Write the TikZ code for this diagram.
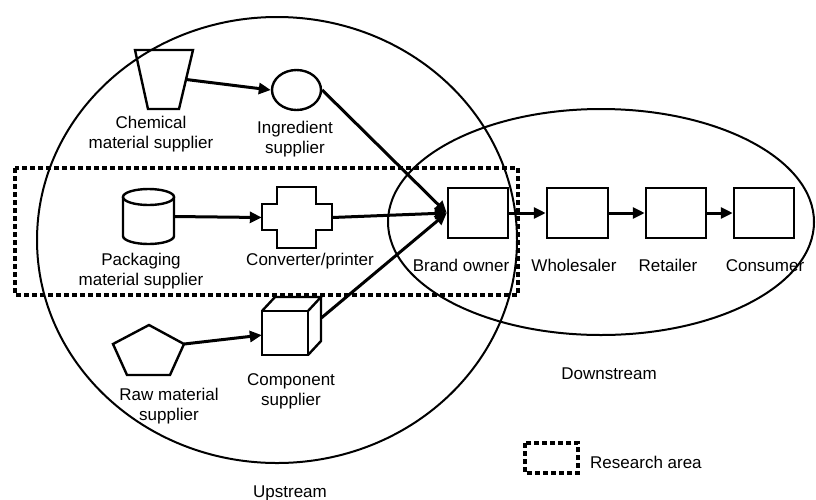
\documentclass[tikz,border=0pt]{standalone}
\usepackage{fontspec}
\setmainfont{Liberation Sans}
\usetikzlibrary{arrows.meta,shapes.geometric}
\begin{document}
\begin{tikzpicture}[x=1pt,y=-1pt,
  every node/.style={font=\fontsize{17}{20.5}\selectfont},
  region/.style={line width=2pt},
  research/.style={line width=4.6pt, dash pattern=on 4.6pt off 3.4pt},
  outline/.style={line width=2.4pt, line join=miter},
  flow/.style={line width=3pt, -{Triangle[length=12pt,width=11pt]}},
  tag/.style={align=center, anchor=base, inner sep=0pt},
  box/.style={draw, line width=2.5pt, minimum width=60pt, minimum height=50pt, inner sep=0pt},
  hull/.style={inner sep=0pt, minimum width=#1}
]
\useasboundingbox (0,0) rectangle (816,499);

% upstream and downstream regions
\draw[region] (277,240) ellipse [x radius=240pt, y radius=223pt];
\draw[region] (601,222) ellipse [x radius=213pt, y radius=113pt];

% research area
\draw[research] (15,168) rectangle (518,295);

% chemical material supplier (trapezium)
\draw[outline] (135,50) -- (193,50) -- (179,109) -- (148,109) -- cycle;
\node[hull=44pt, minimum height=59pt] (chem) at (164,79.5) {};

% ingredient supplier (ellipse)
\node[draw, ellipse, line width=2.4pt, minimum width=49pt, minimum height=40pt, inner sep=0pt] (ingr) at (296.5,90) {};

% packaging material supplier (cylinder)
\draw[outline] (123,197) -- (123,236) arc [start angle=180, end angle=360, x radius=25.5pt, y radius=8pt] -- (174,197);
\draw[outline] (148.5,197) ellipse [x radius=25.5pt, y radius=8pt];
\node[hull=51pt, minimum height=55pt] (pack) at (148.5,216.5) {};

% converter/printer (cross)
\draw[outline] (277,187) -- (316,187) -- (316,204) -- (332,204) -- (332,230) -- (316,230)
  -- (316,248) -- (277,248) -- (277,230) -- (262,230) -- (262,204) -- (277,204) -- cycle;
\node[hull=70pt, minimum height=61pt] (conv) at (297,217.5) {};

% raw material supplier (pentagon)
\draw[outline] (149,325) -- (184,344) -- (170,375) -- (127,375) -- (113,344) -- cycle;
\node[hull=71pt, minimum height=50pt] (raw) at (148.5,344) {};

% component supplier (cube)
\draw[outline] (262,311) rectangle (308,355);
\draw[outline] (262,311) -- (275,297) -- (321,297) -- (308,311);
\draw[outline] (321,297) -- (321,341) -- (308,355);
\node[hull=59pt, minimum height=58pt] (comp) at (291.5,326) {};

% downstream chain
\node[box] (brand) at (478,213) {};
\node[box, minimum width=61pt] (whole) at (577.5,213) {};
\node[box] (retail) at (676,213) {};
\node[box] (cons) at (764,213) {};

% flows
\draw[flow] (chem.east) -- (ingr.west);
\draw[flow] (pack.east) -- (conv.west);
\draw[flow] (raw.east) -- (comp.197);
\draw[flow] (ingr.east) -- (brand.west);
\draw[flow] (conv.east) -- (brand.west);
\draw[flow] (comp.15) -- (brand.west);
\draw[flow] (brand.east) -- (whole.west);
\draw[flow] (whole.east) -- (retail.west);
\draw[flow] (retail.east) -- (cons.west);

% labels (base anchor sits on the last line)
\node[tag] (chemlbl) at (151,148.5) {Chemical\\material supplier};
\node[tag] (ingrlbl) at (295,153.5) {Ingredient\\supplier};
\node[tag] (packlbl) at (141,285.5) {Packaging\\material supplier};
\node[tag] (convlbl) at (310,265) {Converter/printer};
\node[tag] (rawlbl) at (169,420.5) {Raw material\\supplier};
\node[tag] (complbl) at (291,405.5) {Component\\supplier};
\node[tag] (brandlbl) at (461,271) {Brand owner};
\node[tag] (wholelbl) at (574,271) {Wholesaler};
\node[tag] (retaillbl) at (668,271) {Retailer};
\node[tag] (conslbl) at (765,271) {Consumer};
\node[tag] (downlbl) at (609,379) {Downstream};
\node[tag] (uplbl) at (290,497) {Upstream};

% legend
\draw[research] (525,443) rectangle (578,473);
\node[inner sep=0pt, anchor=base west] (legend) at (590,468) {Research area};
\end{tikzpicture}
\end{document}
